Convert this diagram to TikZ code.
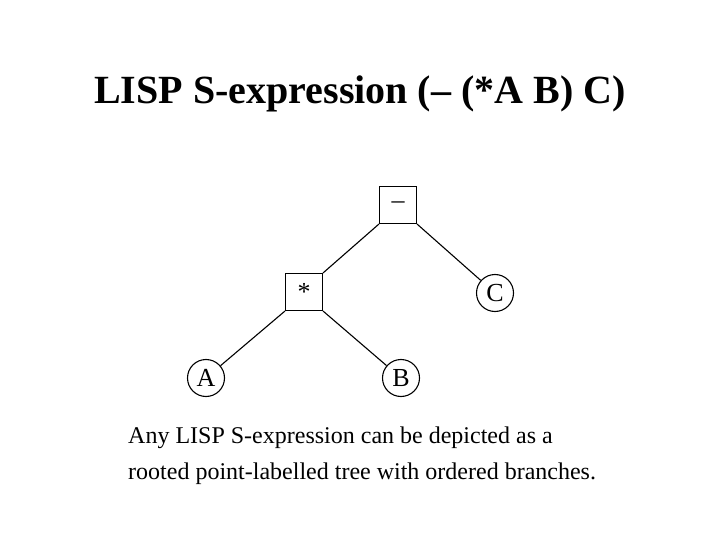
\documentclass[tikz,border=0pt]{standalone}
\usepackage{fontspec}
\setmainfont{Liberation Serif}
\begin{document}
\begin{tikzpicture}[x=1pt,y=-1pt,
  opbox/.style={draw,line width=1.1pt,minimum size=37pt,inner sep=0pt,font=\fontsize{26}{28}\selectfont},
  leaf/.style={draw,circle,line width=1.1pt,minimum size=37pt,inner sep=0pt,font=\fontsize{26}{28}\selectfont},
  edge/.style={line width=1.1pt}]
\useasboundingbox (0,0) rectangle (720,540);
\node[font=\bfseries\fontsize{40}{44}\selectfont,anchor=base] (title) at (360,104)
  {LISP S-expression (– (*A B) C)};
\node[opbox] (root) at (398,205) {–};
\node[opbox] (star) at (304,292) {*};
\node[leaf] (C) at (495,293) {C};
\node[leaf] (A) at (206,378) {A};
\node[leaf] (B) at (401,378) {B};
\draw[edge] (root.south west) -- (star.north east);
\draw[edge] (root.south east) -- (C);
\draw[edge] (star.south west) -- (A);
\draw[edge] (star.south east) -- (B);
\node[font=\fontsize{24}{36}\selectfont,align=left,anchor=north west,inner sep=0pt] (txt) at (128,427) {Any LISP S-expression can be depicted as a\\rooted point-labelled tree with ordered branches.};
\end{tikzpicture}
\end{document}
